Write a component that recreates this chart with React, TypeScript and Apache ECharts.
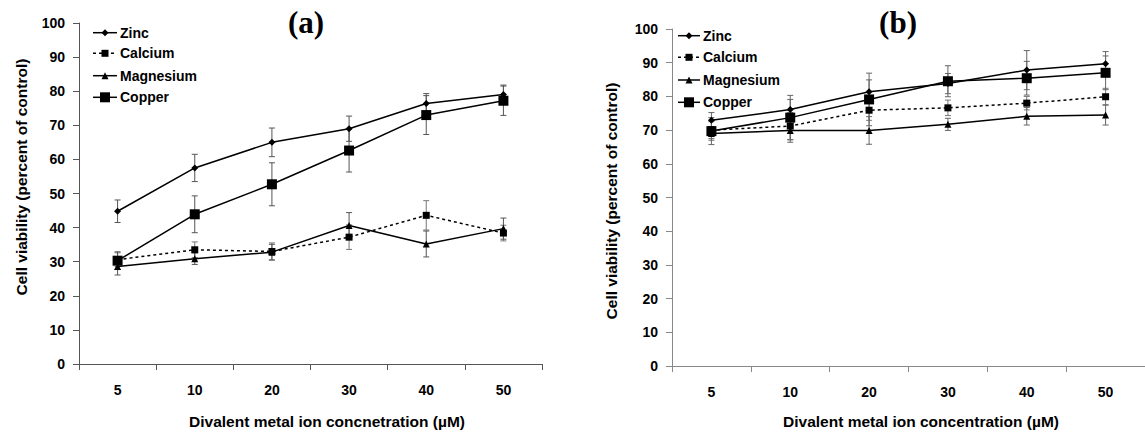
import React, { useEffect, useRef } from 'react';
import * as echarts from 'echarts';

// ---- data ----
const concentrations = ['5', '10', '20', '30', '40', '50'];
const yTicks = { min: 0, max: 100, interval: 10 };
const seriesNames = ['Zinc', 'Calcium', 'Magnesium', 'Copper'];

// Panel (a)
const zincA = [44.8, 57.5, 65.0, 69.0, 76.4, 79.0];
const zincAErr = [3.3, 4.0, 4.2, 3.7, 2.9, 2.8];
const calciumA = [30.6, 33.5, 33.0, 37.2, 43.6, 38.4];
const calciumAErr = [2.0, 2.3, 2.5, 3.6, 4.3, 2.3];
const magnesiumA = [28.6, 30.9, 32.8, 40.6, 35.2, 39.7];
const magnesiumAErr = [2.5, 1.7, 2.3, 3.8, 3.8, 3.1];
const copperA = [30.3, 43.9, 52.7, 62.6, 73.0, 77.2];
const copperAErr = [2.6, 5.4, 6.3, 6.3, 5.7, 4.3];

// Panel (b)
const zincB = [72.9, 76.1, 81.4, 83.8, 87.8, 89.7];
const zincBErr = [2.3, 3.0, 3.5, 3.0, 5.8, 3.6];
const calciumB = [70.0, 71.2, 75.9, 76.6, 78.0, 79.9];
const calciumBErr = [2.5, 4.0, 3.0, 2.3, 2.0, 2.5];
const magnesiumB = [69.0, 69.9, 69.9, 71.7, 74.1, 74.5];
const magnesiumBErr = [2.0, 3.5, 4.1, 1.8, 2.6, 3.0];
const copperB = [69.7, 73.7, 79.1, 84.5, 85.4, 87.0];
const copperBErr = [4.0, 6.6, 7.8, 4.6, 5.0, 5.0];

const panelTitles = ['(a)', '(b)'];
const xTitles = ['Divalent metal ion concnetration (\u00b5M)', 'Divalent metal ion concentration (\u00b5M)'];
const yTitle = 'Cell viability (percent of control)';

// ---- styles ----
const SANS = '"Liberation Sans", Arial, Helvetica, sans-serif';
const SERIF = '"Liberation Serif", "Times New Roman", serif';

type Style = { symbol: string; size: number; dash: any };
const seriesStyles: Record<string, Style> = {
  Zinc: { symbol: 'diamond', size: 7, dash: 'solid' },
  Calcium: { symbol: 'rect', size: 7, dash: [3, 3] },
  Magnesium: { symbol: 'triangle', size: 7, dash: 'solid' },
  Copper: { symbol: 'rect', size: 10, dash: 'solid' },
};

function errData(vals: number[], errs: number[]) {
  return vals.map((v, i) => [i, v - errs[i], v + errs[i]]);
}

function errorSeries(vals: number[], errs: number[], idx: number, color: string) {
  return {
    type: 'custom',
    xAxisIndex: idx,
    yAxisIndex: idx,
    z: 1,
    silent: true,
    data: errData(vals, errs),
    encode: { x: 0, y: [1, 2] },
    renderItem: (params: any, api: any) => {
      const x = api.value(0);
      const top = api.coord([x, api.value(2)]);
      const bot = api.coord([x, api.value(1)]);
      const w = 3;
      const st = { stroke: color, lineWidth: 1 };
      return {
        type: 'group',
        children: [
          { type: 'line', shape: { x1: top[0], y1: top[1], x2: bot[0], y2: bot[1] }, style: st },
          { type: 'line', shape: { x1: top[0] - w, y1: top[1], x2: top[0] + w, y2: top[1] }, style: st },
          { type: 'line', shape: { x1: bot[0] - w, y1: bot[1], x2: bot[0] + w, y2: bot[1] }, style: st },
        ],
      };
    },
  };
}

function lineSeries(name: string, vals: number[], idx: number) {
  const s = seriesStyles[name];
  return {
    type: 'line',
    name,
    xAxisIndex: idx,
    yAxisIndex: idx,
    z: 3,
    data: vals,
    symbol: s.symbol,
    symbolSize: s.size,
    showAllSymbol: true,
    lineStyle: { color: '#000', width: 1.5, type: s.dash },
    itemStyle: { color: '#000' },
  };
}

function marker(name: string, cx: number, cy: number) {
  const s = seriesStyles[name];
  const h = s.size / 2;
  if (s.symbol === 'diamond') {
    return { type: 'polygon', shape: { points: [[cx, cy - h], [cx + h, cy], [cx, cy + h], [cx - h, cy]] }, style: { fill: '#000' } };
  }
  if (s.symbol === 'triangle') {
    return { type: 'polygon', shape: { points: [[cx, cy - h], [cx + h, cy + h], [cx - h, cy + h]] }, style: { fill: '#000' } };
  }
  return { type: 'rect', shape: { x: cx - h, y: cy - h, width: s.size, height: s.size }, style: { fill: '#000' } };
}

function legendGraphic(x0: number, x1: number, textX: number, ys: number[]) {
  const els: any[] = [];
  seriesNames.forEach((name, i) => {
    const y = ys[i];
    const s = seriesStyles[name];
    els.push({
      type: 'line',
      shape: { x1: x0, y1: y, x2: x1, y2: y },
      style: { stroke: '#000', lineWidth: 1.5, lineDash: Array.isArray(s.dash) ? s.dash : null },
    });
    els.push(marker(name, (x0 + x1) / 2, y));
    els.push({
      type: 'text',
      x: textX,
      y,
      style: { text: name, fill: '#000', font: `bold 14px ${SANS}`, textAlign: 'left', verticalAlign: 'middle', textVerticalAlign: 'middle' },
    });
  });
  return els;
}

function text(t: string, x: number, y: number, font: string, rotation = 0) {
  return {
    type: 'text',
    x,
    y,
    rotation,
    style: { text: t, fill: '#000', font, textAlign: 'center', verticalAlign: 'middle', textVerticalAlign: 'middle' },
  };
}

function xAxisCfg(idx: number, color: string) {
  return {
    type: 'category',
    gridIndex: idx,
    data: concentrations,
    boundaryGap: true,
    axisLine: { lineStyle: { color, width: 1 } },
    axisTick: { show: true, length: 6, lineStyle: { color } },
    axisLabel: { color: '#000', fontFamily: SANS, fontWeight: 'bold', fontSize: 14, margin: 19 },
    splitLine: { show: false },
  };
}

function yAxisCfg(idx: number, color: string) {
  return {
    type: 'value',
    gridIndex: idx,
    min: yTicks.min,
    max: yTicks.max,
    interval: yTicks.interval,
    axisLine: { show: true, lineStyle: { color, width: 1 } },
    axisTick: { show: true, length: 6, lineStyle: { color } },
    axisLabel: { color: '#000', fontFamily: SANS, fontWeight: 'bold', fontSize: 14, margin: 14 },
    splitLine: { show: false },
  };
}

export default function App() {
  const ref = useRef<HTMLDivElement>(null);
  useEffect(() => {
    if (!ref.current) return;
    const chart = echarts.init(ref.current, undefined, { renderer: 'svg' });
    const option: any = {
      animation: false,
      backgroundColor: '#fff',
      grid: [
        { left: 79, top: 23, width: 463, height: 341 },
        { left: 672, top: 29, width: 480, height: 337 },
      ],
      xAxis: [xAxisCfg(0, '#555'), xAxisCfg(1, '#888')],
      yAxis: [yAxisCfg(0, '#555'), yAxisCfg(1, '#888')],
      series: [
        errorSeries(zincA, zincAErr, 0, '#555'),
        errorSeries(calciumA, calciumAErr, 0, '#777'),
        errorSeries(magnesiumA, magnesiumAErr, 0, '#555'),
        errorSeries(copperA, copperAErr, 0, '#555'),
        lineSeries('Zinc', zincA, 0),
        lineSeries('Calcium', calciumA, 0),
        lineSeries('Magnesium', magnesiumA, 0),
        lineSeries('Copper', copperA, 0),
        errorSeries(zincB, zincBErr, 1, '#666'),
        errorSeries(calciumB, calciumBErr, 1, '#777'),
        errorSeries(magnesiumB, magnesiumBErr, 1, '#666'),
        errorSeries(copperB, copperBErr, 1, '#666'),
        lineSeries('Zinc', zincB, 1),
        lineSeries('Calcium', calciumB, 1),
        lineSeries('Magnesium', magnesiumB, 1),
        lineSeries('Copper', copperB, 1),
      ],
      graphic: [
        text(panelTitles[0], 306, 22, `bold 31px ${SERIF}`),
        text(panelTitles[1], 898, 22, `bold 31px ${SERIF}`),
        text(xTitles[0], 327, 421, `bold 15.5px ${SANS}`),
        text(xTitles[1], 921, 421, `bold 15.5px ${SANS}`),
        text(yTitle, 21, 177, `bold 15.5px ${SANS}`, Math.PI / 2),
        text(yTitle, 611, 201, `bold 15.5px ${SANS}`, Math.PI / 2),
        ...legendGraphic(93, 117, 120, [32.7, 53.3, 75.7, 97.3]),
        ...legendGraphic(678, 700, 703, [35.7, 57.3, 80, 102.3]),
      ],
    };
    chart.setOption(option);
    return () => chart.dispose();
  }, []);
  return (
    <div
      ref={ref}
      style={{ position: 'absolute', left: 0, top: 0, width: 1145, height: 434, background: '#fff' }}
    />
  );
}
